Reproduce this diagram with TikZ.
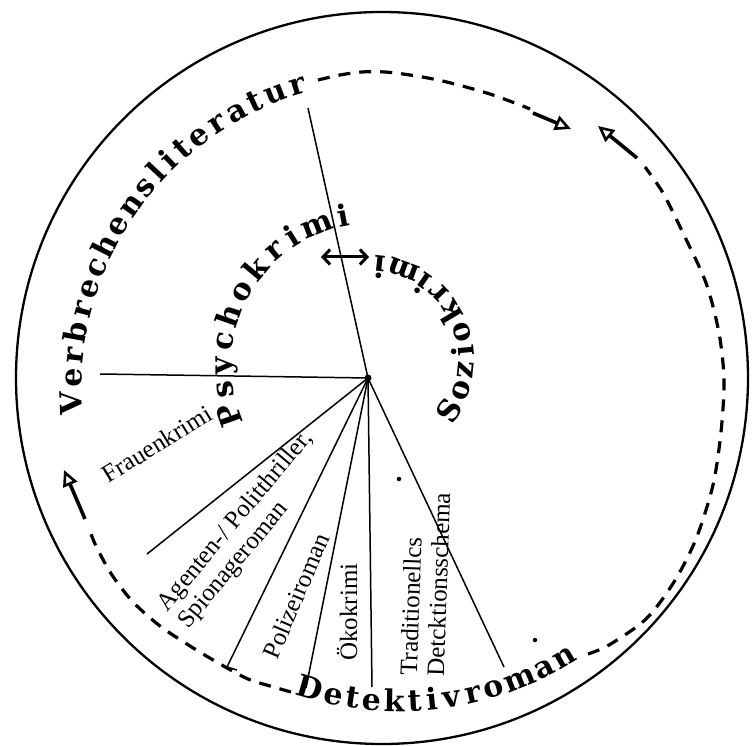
\documentclass[tikz,border=0pt]{standalone}
\usepackage{fontspec}
\setmainfont{Liberation Serif}
\newfontfamily\arcfont{DejaVu Serif}
\usetikzlibrary{arrows.meta}
\begin{document}
\begin{tikzpicture}[x=1pt,y=1pt,
 arcletter/.style={font=\arcfont\bfseries\fontsize{30}{30}\selectfont, inner sep=0pt, anchor=mid},
 smalllabel/.style={font=\fontsize{25}{27}\selectfont, inner sep=0pt, align=left},
 spoke/.style={line width=1.5pt},
 dashline/.style={line width=3.2pt, dash pattern=on 12pt off 9pt},
 openarrow/.style={line width=3.6pt, -{Triangle[open,length=16pt,width=15pt,line width=2.6pt]}},
 dblarrow/.style={line width=3pt, {Straight Barb[length=7pt,width=15pt,line width=3pt]}-{Straight Barb[length=7pt,width=15pt,line width=3pt]}},
 dotmark/.style={circle, fill=black, inner sep=0pt, minimum size=4.5pt},
]
\useasboundingbox (0,0) rectangle (752,745);
\fill[white] (0,0) rectangle (752,745);
% outer circle
\draw[line width=2.3pt] (382,367) circle[radius=366pt];
% hub and spokes
\node[circle, fill=black, inner sep=0pt, minimum size=7pt] (hub) at (368,367) {};
\coordinate (s1) at (308,637);
\coordinate (s2) at (100,371);
\coordinate (s3) at (147,191);
\coordinate (s4) at (227,78);
\coordinate (s4b) at (237,75);
\coordinate (s5) at (306,57);
\coordinate (s6) at (372,58);
\coordinate (s7) at (504,78);
\draw[spoke] (hub.center) -- (s1);
\draw[spoke] (hub.center) -- (s2);
\draw[spoke] (hub.center) -- (s3);
\draw[spoke] (hub.center) -- (s4) -- (s4b);
\draw[spoke] (hub.center) -- (s5);
\draw[spoke] (hub.center) -- (s6);
\draw[spoke] (hub.center) -- (s7);
% dashed ring pieces
\draw[dashline] plot[smooth] coordinates {(318,665) (340,670) (362,673) (385,673) (410,670) (438,665) (466,658) (493,650) (520,640) (530,636)};
\coordinate (a1s) at (533,632);
\coordinate (a1t) at (571,616);
\draw[openarrow] (a1s) -- (a1t);
\draw[dashline] plot[smooth] coordinates {(588,91) (609,100) (646,126) (674,163) (696,206) (713,260) (721,313) (724,365) (719,412) (706,462) (683,512) (663,552) (645,578)};
\coordinate (a2s) at (637,587);
\coordinate (a2t) at (598,619);
\draw[openarrow] (a2s) -- (a2t);
\draw[dashline] plot[smooth] coordinates {(291,53) (270,59) (248,66) (220,81) (190,99) (160,119) (133,143) (112,170) (96,199) (88,219)};
\coordinate (a3s) at (85,226);
\coordinate (a3t) at (64,275);
\draw[openarrow] (a3s) -- (a3t);
% double arrow
\coordinate (da1) at (321,488);
\coordinate (da2) at (369,488);
\draw[dblarrow] (da1) -- (da2);
% dots
\node[dotmark] (dot1) at (399,266) {};
\node[dotmark] (dot2) at (535,105) {};
% labels
\node[smalllabel, rotate=31.5] (frau) at (157,301) {Frauenkrimi};
\node[smalllabel, rotate=50] (agent) at (246,215) {Agenten-/ Politthriller,\\Spionageroman};
\node[smalllabel, rotate=67] (poli) at (296,149) {Polizeiroman};
\node[smalllabel, rotate=90] (oeko) at (347,133) {Ökokrimi};
\node[smalllabel, rotate=88] (trad) at (425,161) {Traditionellcs\\Detcktionsschema};
% arc texts
\begin{scope}[shift={(390,355)}]
\foreach \l/\a [count=\i] in {V/182.4, e/177.73, r/173.78, b/169.52, r/165.26, e/161.30, c/157.35, h/153.09, e/148.83, n/144.57, s/140.44, l/137.03, i/133.90, t/130.64, e/126.97, r/123.02, a/118.91, t/115.09, u/111.11, r/106.85}
  \node[arcletter, rotate=\a-90] (vb\i) at (\a:311pt) {\l};
\end{scope}
\begin{scope}[shift={(372,380)}]
\foreach \l/\a [count=\i] in {P/199.6, s/189.66, y/180.34, c/170.74, h/160.81, o/150.53, k/140.26, r/130.32, i/121.96, m/111.41, i/100.85}
  \node[arcletter, rotate=\a-90] (ps\i) at (\a:143pt) {\l};
\end{scope}
\begin{scope}[shift={(370,385)}]
\foreach \l/\a [count=\i] in {S/-32.6, o/-18.75, z/-5.84, i/5.34, o/16.99, k/30.84, r/44.22, i/55.4, m/69.64, i/83.89}
  \node[arcletter, rotate=\a+90] (so\i) at (\a:102pt) {\l};
\end{scope}
\begin{scope}[shift={(400,365)}]
\foreach \l/\a [count=\i] in {D/253.7, e/258.09, t/261.53, e/264.97, k/268.98, t/272.71, i/275.76, v/279.23, r/283.08, o/286.94, m/291.75, a/296.55, n/300.7}
  \node[arcletter, rotate=\a+90] (de\i) at (\a:329pt) {\l};
\end{scope}
\end{tikzpicture}
\end{document}
